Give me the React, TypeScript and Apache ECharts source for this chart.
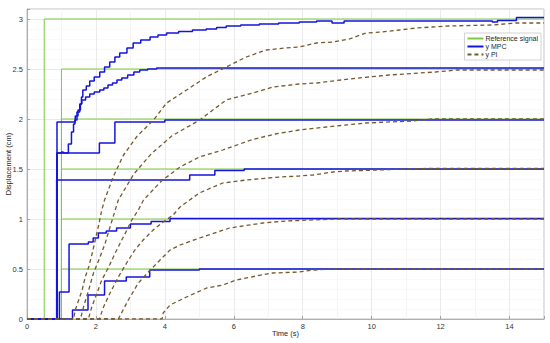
import React, { useEffect, useRef } from "react";
import * as echarts from "echarts";

// ---------- data ----------
const xTicks = [0, 2, 4, 6, 8, 10, 12, 14];
const yTicks = [0, 0.5, 1, 1.5, 2, 2.5, 3];

const refLevels = [3, 2.5, 2, 1.5, 1, 0.5];
const refStepTimes = [0.5, 1, 1, 1, 1, 1];

// MPC responses: [time, value held from that time on]
const mpc3 = [[0,0],[0.87,1.66],[1.0,1.67],[1.05,1.66],[1.15,1.66],[1.2,1.75],[1.29,1.87],[1.35,1.95],[1.39,1.99],[1.45,2.07],[1.53,2.15],[1.58,2.22],[1.62,2.29],[1.72,2.33],[1.82,2.38],[1.95,2.42],[2.11,2.47],[2.25,2.52],[2.4,2.57],[2.55,2.62],[2.69,2.66],[2.9,2.71],[3.08,2.76],[3.3,2.79],[3.57,2.82],[3.8,2.84],[4.05,2.86],[4.4,2.875],[4.8,2.89],[5.2,2.9],[5.5,2.915],[5.78,2.93],[6.2,2.94],[6.74,2.95],[7.3,2.96],[7.9,2.97],[8.4,2.98],[8.85,2.96],[9.2,2.98],[13.5,2.97],[13.65,2.985],[14.2,3.015],[15,3.015]];
const mpc25 = [[0,0],[0.87,1.97],[1.33,1.97],[1.4,2.03],[1.48,2.09],[1.55,2.15],[1.59,2.19],[1.7,2.22],[1.82,2.25],[1.95,2.27],[2.11,2.29],[2.23,2.31],[2.35,2.34],[2.48,2.36],[2.61,2.39],[2.75,2.41],[2.92,2.44],[3.1,2.47],[3.27,2.49],[3.5,2.5],[3.76,2.51],[15,2.51]];
const mpc2 = [[0,0],[0.87,1.66],[2.1,1.76],[2.55,1.97],[4.0,1.99],[15,1.99]];
const mpc15 = [[0,0],[0.86,1.39],[4.72,1.44],[5.45,1.485],[6.3,1.5],[15,1.5]];
const mpc1 = [[0,0],[0.94,0.27],[1.22,0.75],[1.78,0.77],[1.92,0.81],[2.07,0.86],[2.3,0.88],[2.6,0.91],[3.0,0.95],[3.6,0.975],[4.15,1.005],[15,1.005]];
const mpc05 = [[0,0],[1.32,0.09],[1.77,0.24],[2.25,0.38],[2.88,0.42],[3.56,0.49],[5.0,0.5],[15,0.5]];

// PI responses
const pi3 = [[0,0],[1.35,0],[1.4,0.09],[1.5,0.19],[1.6,0.29],[1.69,0.42],[1.79,0.52],[1.88,0.64],[1.98,0.79],[2.08,0.94],[2.17,1.09],[2.25,1.19],[2.5,1.42],[2.8,1.64],[3.2,1.83],[3.67,1.99],[4.05,2.16],[4.63,2.29],[5.2,2.42],[5.78,2.52],[6.36,2.62],[6.94,2.69],[7.5,2.71],[7.9,2.72],[8.4,2.76],[8.87,2.77],[9.35,2.8],[9.83,2.86],[10.3,2.87],[10.8,2.89],[11.3,2.91],[11.75,2.92],[12.24,2.93],[13.5,2.94],[14.2,2.96],[15,2.96]];
const pi25 = [[0,0],[1.55,0],[1.64,0.12],[1.79,0.29],[1.93,0.46],[2.12,0.62],[2.27,0.76],[2.41,0.92],[2.56,1.09],[2.65,1.19],[3.1,1.45],[3.6,1.65],[4.2,1.83],[5.01,1.99],[5.78,2.19],[6.56,2.26],[7.13,2.32],[7.9,2.35],[8.4,2.36],[9.35,2.4],[10.5,2.44],[11.85,2.47],[12.5,2.49],[15,2.49]];
const pi2 = [[0,0],[1.78,0],[1.88,0.12],[2.03,0.26],[2.17,0.39],[2.37,0.52],[2.56,0.66],[2.75,0.79],[2.9,0.89],[3.04,0.99],[3.23,1.09],[3.38,1.19],[3.9,1.38],[4.44,1.52],[5.0,1.62],[5.68,1.69],[6.5,1.79],[7.2,1.85],[7.9,1.89],[8.68,1.92],[9.83,1.96],[11.2,1.98],[11.75,2.0],[15,2.0]];
const pi15 = [[0,0],[2.1,0],[2.22,0.12],[2.41,0.26],[2.65,0.42],[2.89,0.56],[3.13,0.69],[3.37,0.79],[3.66,0.89],[3.95,0.97],[4.24,1.04],[4.44,1.12],[5.0,1.26],[5.68,1.36],[6.36,1.39],[7.33,1.42],[7.9,1.43],[8.3,1.44],[8.87,1.47],[9.25,1.48],[10.2,1.49],[11.0,1.5],[11.75,1.507],[15,1.507]];
const pi1 = [[0,0],[2.65,0],[2.94,0.19],[3.23,0.36],[3.52,0.47],[3.86,0.59],[4.15,0.69],[4.44,0.74],[5.01,0.81],[5.88,0.91],[6.84,0.96],[7.52,0.98],[8.97,1.0],[15,1.0]];
const pi05 = [[0,0],[3.92,0],[3.95,0.06],[4.15,0.14],[4.63,0.22],[5.21,0.31],[5.68,0.34],[6.07,0.39],[6.65,0.43],[7.13,0.46],[7.9,0.47],[8.3,0.49],[8.9,0.5],[15,0.5]];

const mpcSeries = [mpc3, mpc25, mpc2, mpc15, mpc1, mpc05];
const piSeries = [pi3, pi25, pi2, pi15, pi1, pi05];

const FONT = "'Liberation Sans', Arial, Helvetica, sans-serif";
const GREEN = "#7cc943";
const BLUE = "#1414e0";
const BROWN = "#74592e";

export default function App() {
  const ref = useRef<HTMLDivElement>(null);
  useEffect(() => {
    if (!ref.current) return;
    const chart = echarts.init(ref.current, undefined, { renderer: "svg" });
    const series: any[] = [];
    refLevels.forEach((lv, i) => {
      series.push({
        name: "Reference signal",
        type: "line",
        step: "end",
        symbol: "none",
        data: [[0, 0], [refStepTimes[i], lv], [15, lv]],
        lineStyle: { color: GREEN, width: 1 },
        itemStyle: { color: GREEN },
        z: 2,
      });
    });
    mpcSeries.forEach((d) => {
      series.push({
        name: "y MPC",
        type: "line",
        step: "end",
        symbol: "none",
        data: d,
        lineStyle: { color: BLUE, width: 1.5 },
        itemStyle: { color: BLUE },
        z: 3,
      });
    });
    piSeries.forEach((d) => {
      series.push({
        name: "y PI",
        type: "line",
        symbol: "none",
        data: d,
        lineStyle: { color: BROWN, width: 1.3, type: [4, 3] },
        itemStyle: { color: BROWN },
        z: 4,
      });
    });
    chart.setOption({
      animation: false,
      backgroundColor: "#ffffff",
      grid: {
        left: 27,
        right: 6,
        top: 9,
        bottom: 24,
        containLabel: false,
        outerBoundsMode: "none",
        show: true,
        borderColor: "#b0b0b0",
        borderWidth: 0.8,
      },
      legend: {
        data: ["Reference signal", "y MPC", "y PI"],
        orient: "vertical",
        right: 9,
        top: 33,
        itemWidth: 16,
        itemHeight: 7,
        itemGap: 1,
        padding: [2, 3, 2, 2],
        backgroundColor: "#ffffff",
        borderColor: "#c8c8c8",
        borderWidth: 0.8,
        itemStyle: { opacity: 0 },
        textStyle: { fontSize: 7, color: "#262626", fontFamily: FONT, padding: [0, 0, 0, -3] },
      },
      xAxis: {
        type: "value",
        min: 0,
        max: 15,
        interval: 2,
        name: "Time (s)",
        nameLocation: "middle",
        nameGap: 10,
        nameMoveOverlap: false,
        nameTextStyle: { fontSize: 7.5, color: "#262626", fontFamily: FONT },
        axisLine: { show: true, lineStyle: { color: "#a0a0a0", width: 0.8 } },
        axisTick: { show: true, inside: true, length: 3, lineStyle: { color: "#a0a0a0" } },
        axisLabel: {
          fontSize: 7.5,
          color: "#333",
          fontFamily: FONT,
          margin: 3,
          formatter: (v: number) => (xTicks.includes(v) ? String(v) : ""),
        },
        splitLine: { show: true, lineStyle: { color: "#e4e4e4", width: 0.8 } },
        minorTick: { show: false, splitNumber: 2 },
        minorSplitLine: { show: true, lineStyle: { color: "#f3f3f3", width: 0.8 } },
      },
      yAxis: {
        type: "value",
        min: 0,
        max: 3.1,
        interval: 0.5,
        name: "Displacement (cm)",
        nameLocation: "middle",
        nameGap: 15,
        nameMoveOverlap: false,
        nameRotate: 90,
        nameTextStyle: { fontSize: 7.5, color: "#262626", fontFamily: FONT },
        axisLine: { show: true, lineStyle: { color: "#a0a0a0", width: 0.8 } },
        axisTick: { show: true, inside: true, length: 3, lineStyle: { color: "#a0a0a0" } },
        axisLabel: {
          fontSize: 7.5,
          color: "#333",
          fontFamily: FONT,
          margin: 4,
          formatter: (v: number) => (yTicks.includes(v) ? String(v) : ""),
        },
        splitLine: { show: true, lineStyle: { color: "#e4e4e4", width: 0.8 } },
        minorTick: { show: false, splitNumber: 5 },
        minorSplitLine: { show: true, lineStyle: { color: "#f5f5f5", width: 0.6 } },
      },
      series,
    });
    return () => chart.dispose();
  }, []);
  return (
    <div
      ref={ref}
      style={{ position: "absolute", left: 0, top: 0, width: 550, height: 343 }}
    />
  );
}
